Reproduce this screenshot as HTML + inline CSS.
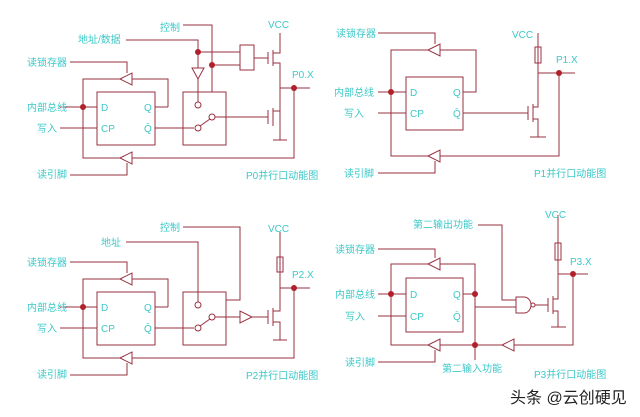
<!DOCTYPE html>
<html><head><meta charset="utf-8"><style>
html,body{margin:0;padding:0;background:#fff;}
svg{display:block}
text{font-family:"Liberation Sans","Noto Sans CJK SC",sans-serif;fill:#3cc8c8;font-size:10px}
</style></head><body>
<svg width="640" height="417" viewBox="0 0 640 417" xmlns="http://www.w3.org/2000/svg">
<g stroke="#9a3040" stroke-width="1" fill="none">
<!-- P0 -->
<rect x="97" y="92" width="58" height="53"/>
<polyline points="168,107 168,79 83,79 83,158 294,158 294,88"/>
<line x1="155" y1="107" x2="168" y2="107"/>
<line x1="60" y1="107" x2="97" y2="107"/><line x1="60" y1="128" x2="97" y2="128"/>
<polyline points="70,62 127,62 127,73"/><polyline points="70,175 127,175 127,163"/>
<polygon points="120,79 132,73 132,85" fill="#fff"/><polygon points="120,158 132,152 132,164" fill="#fff"/>
<rect x="183" y="92" width="43" height="53"/>
<line x1="155" y1="128" x2="194" y2="128"/>
<circle cx="198" cy="105" r="3"/><circle cx="198" cy="128" r="3"/><circle cx="212" cy="117" r="3"/>
<line x1="200" y1="126" x2="210" y2="119"/>
<line x1="215" y1="117" x2="268" y2="117"/>
<polyline points="183,25 212,25 212,92"/>
<polyline points="126,40 198,40 198,102"/>
<polygon points="192,68 204,68 198,79" fill="#fff"/>
<line x1="198" y1="52" x2="240" y2="52"/><line x1="212" y1="65" x2="240" y2="65"/>
<rect x="240" y="45" width="14" height="25"/><line x1="254" y1="58" x2="268" y2="58"/>
<line x1="268" y1="52" x2="268" y2="64"/><line x1="273" y1="50" x2="273" y2="66"/>
<polyline points="273,53 280,53 280,33"/><polyline points="273,63 280,63 280,140"/>
<line x1="268" y1="110" x2="268" y2="124"/><line x1="273" y1="108" x2="273" y2="126"/>
<line x1="273" y1="111" x2="280" y2="111"/><line x1="273" y1="140" x2="287" y2="140"/>
<line x1="280" y1="88" x2="310" y2="88"/>
<!-- P1 -->
<rect x="406" y="77" width="57" height="53"/>
<polyline points="463,92 476,92 476,50 391,50 391,156 559,156 559,73"/>
<line x1="378" y1="92" x2="406" y2="92"/><line x1="378" y1="113" x2="406" y2="113"/>
<polyline points="378,33 435,33 435,44"/><polyline points="378,173 435,173 435,161"/>
<polygon points="428,50 440,44 440,56" fill="#fff"/><polygon points="428,156 440,150 440,162" fill="#fff"/>
<line x1="463" y1="113" x2="528" y2="113"/>
<line x1="528" y1="106" x2="528" y2="120"/><line x1="533" y1="104" x2="533" y2="122"/>
<polyline points="533,107 538,107 538,33"/><polyline points="533,119 538,119 538,137"/>
<rect x="535" y="47" width="6" height="16"/>
<line x1="530" y1="137" x2="546" y2="137"/><line x1="538" y1="73" x2="575" y2="73"/>
<!-- P2 -->
<rect x="97" y="292" width="58" height="53"/>
<polyline points="168,307 168,279 83,279 83,358 294,358 294,288"/>
<line x1="155" y1="307" x2="168" y2="307"/>
<line x1="60" y1="307" x2="97" y2="307"/><line x1="60" y1="328" x2="97" y2="328"/>
<polyline points="70,262 127,262 127,273"/><polyline points="70,375 127,375 127,363"/>
<polygon points="120,279 132,273 132,285" fill="#fff"/><polygon points="120,358 132,352 132,364" fill="#fff"/>
<rect x="183" y="292" width="43" height="53"/>
<line x1="155" y1="328" x2="194" y2="328"/>
<circle cx="198" cy="305" r="3"/><circle cx="198" cy="328" r="3"/><circle cx="212" cy="317" r="3"/>
<line x1="200" y1="326" x2="210" y2="319"/>
<line x1="215" y1="317" x2="240" y2="317"/>
<polygon points="240,311 240,323 252,317" fill="#fff"/>
<line x1="252" y1="317" x2="268" y2="317"/>
<polyline points="183,227 240,227 240,300 226,300"/>
<polyline points="126,242 198,242 198,302"/>
<line x1="268" y1="310" x2="268" y2="324"/><line x1="273" y1="308" x2="273" y2="326"/>
<polyline points="273,311 280,311 280,232"/><polyline points="273,322 280,322 280,340"/>
<rect x="277" y="257" width="6" height="15"/>
<line x1="273" y1="340" x2="287" y2="340"/><line x1="280" y1="288" x2="310" y2="288"/>
<!-- P3 -->
<rect x="406" y="278" width="57" height="54"/>
<polyline points="475,360 475,264 391,264 391,345 573,345 573,274"/>
<line x1="463" y1="294" x2="475" y2="294"/>
<line x1="378" y1="294" x2="406" y2="294"/><line x1="378" y1="316" x2="406" y2="316"/>
<polyline points="378,249 435,249 435,258"/><polyline points="378,362 435,362 435,350"/>
<polygon points="428,264 440,258 440,270" fill="#fff"/><polygon points="428,345 440,339 440,351" fill="#fff"/>
<polygon points="502,345 514,339 514,351" fill="#fff"/>
<line x1="475" y1="307" x2="516" y2="307"/>
<polyline points="478,225 502,225 502,300 516,300"/>
<path d="M516,297 H524 A7,8 0 0 1 524,313 H516 Z" fill="#fff"/>
<circle cx="533" cy="305" r="2"/>
<line x1="535" y1="305" x2="548" y2="305"/>
<line x1="548" y1="298" x2="548" y2="312"/><line x1="553" y1="296" x2="553" y2="314"/>
<polyline points="553,299 558,299 558,215"/><polyline points="553,311 558,311 558,327"/>
<rect x="555" y="243" width="6" height="17"/>
<line x1="551" y1="327" x2="566" y2="327"/><line x1="558" y1="274" x2="588" y2="274"/>
</g>
<g fill="#b0202a">
<circle cx="83" cy="107" r="3"/><circle cx="198" cy="52" r="3"/><circle cx="212" cy="65" r="3"/><circle cx="294" cy="88" r="3"/>
<circle cx="391" cy="92" r="3"/><circle cx="559" cy="73" r="3"/>
<circle cx="83" cy="307" r="3"/><circle cx="294" cy="288" r="3"/>
<circle cx="391" cy="294" r="3"/><circle cx="475" cy="294" r="3"/><circle cx="475" cy="345" r="3"/><circle cx="573" cy="274" r="3"/>
</g>
<g>
<text x="160" y="31">控制</text><text x="78" y="43">地址/数据</text><text x="27" y="66">读锁存器</text>
<text x="27" y="111">内部总线</text><text x="37" y="132">写入</text><text x="37" y="178">读引脚</text>
<text x="101" y="111">D</text><text x="101" y="132">CP</text><text x="144" y="111">Q</text><text x="144" y="132">Q̄</text>
<text x="268" y="28">VCC</text><text x="292" y="78">P0.X</text><text x="246" y="179">P0并行口动能图</text>
<text x="336" y="37">读锁存器</text><text x="334" y="96">内部总线</text><text x="344" y="117">写入</text><text x="344" y="177">读引脚</text>
<text x="410" y="96">D</text><text x="410" y="117">CP</text><text x="453" y="96">Q</text><text x="453" y="117">Q̄</text>
<text x="512" y="38">VCC</text><text x="556" y="63">P1.X</text><text x="534" y="177">P1并行口动能图</text>
<text x="160" y="231">控制</text><text x="101" y="246">地址</text><text x="27" y="266">读锁存器</text>
<text x="27" y="311">内部总线</text><text x="37" y="332">写入</text><text x="37" y="378">读引脚</text>
<text x="101" y="311">D</text><text x="101" y="332">CP</text><text x="144" y="311">Q</text><text x="144" y="332">Q̄</text>
<text x="268" y="232">VCC</text><text x="292" y="278">P2.X</text><text x="246" y="379">P2并行口动能图</text>
<text x="413" y="228">第二输出功能</text><text x="335" y="253">读锁存器</text><text x="335" y="298">内部总线</text>
<text x="345" y="320">写入</text><text x="345" y="366">读引脚</text>
<text x="410" y="298">D</text><text x="410" y="320">CP</text><text x="453" y="298">Q</text><text x="453" y="320">Q̄</text>
<text x="545" y="218">VCC</text><text x="570" y="265">P3.X</text>
<text x="442" y="372">第二输入功能</text><text x="534" y="378">P3并行口动能图</text>
<text x="510" y="403" style="fill:#222;font-size:16px">头条 @云创硬见</text>
</g>
</svg>
</body></html>
